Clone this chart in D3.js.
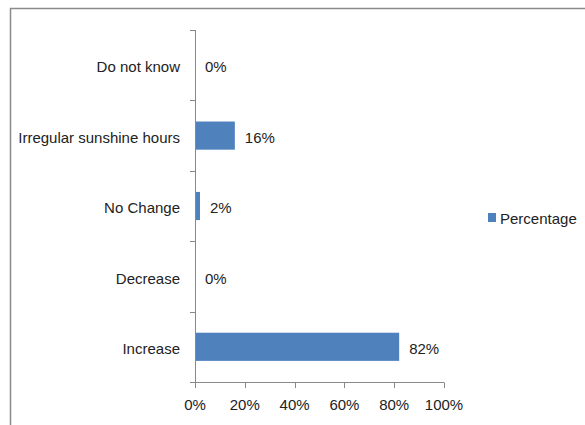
<!DOCTYPE html>
<html><head><meta charset="utf-8">
<script src="https://cdn.jsdelivr.net/npm/d3@7"></script>
<style>body{margin:0;background:#fff}</style>
</head><body>
<svg id="c" width="585" height="425"></svg>
<script>
const categories = ["Do not know","Irregular sunshine hours","No Change","Decrease","Increase"];
const values = [0,16,2,0,82];
const xTicks = [0,20,40,60,80,100];
const seriesName = "Percentage";

const svg = d3.select("#c");
const font = "'Liberation Sans',Arial,sans-serif";
const fs = 15;
svg.append("rect").attr("x",10.5).attr("y",8.5).attr("width",600).attr("height",450)
  .attr("fill","#fff").attr("stroke","#8a8a8a").attr("stroke-width",1.5);

const m = {left:195, top:30, right:444, bottom:382};
const x = d3.scaleLinear().domain([0,100]).range([m.left,m.right]);
const y = d3.scaleBand().domain(categories).range([m.top,m.bottom]).paddingInner(0.6).paddingOuter(0.3);
const yb = d3.scaleBand().domain(categories).range([m.top,m.bottom]);

// y axis
const ya = svg.append("g").attr("transform",`translate(${m.left},0)`);
ya.append("line").attr("x1",0.5).attr("x2",0.5).attr("y1",m.top).attr("y2",m.bottom).attr("stroke","#888");
const yEdges = categories.map(c=>yb(c)).concat([m.bottom]);
ya.selectAll(".yt").data(yEdges).join("line").attr("x1",-5).attr("x2",0.5)
  .attr("y1",d=>Math.round(d)+0.5).attr("y2",d=>Math.round(d)+0.5).attr("stroke","#888");
ya.selectAll("text").data(categories).join("text")
  .attr("x",-15).attr("y",d=>yb(d)+yb.bandwidth()/2+2).attr("dy","0.35em")
  .attr("text-anchor","end").attr("font-family",font).attr("font-size",fs).attr("fill","#222")
  .text(d=>d);

// x axis
const xa = svg.append("g").attr("transform",`translate(0,${m.bottom})`);
xa.append("line").attr("x1",m.left).attr("x2",m.right).attr("y1",0.5).attr("y2",0.5).attr("stroke","#888");
xa.selectAll(".xt").data(xTicks).join("line").attr("x1",d=>Math.round(x(d))+0.5).attr("x2",d=>Math.round(x(d))+0.5)
  .attr("y1",0.5).attr("y2",6).attr("stroke","#888");
xa.selectAll("text").data(xTicks).join("text").attr("x",d=>x(d)).attr("y",28)
  .attr("text-anchor","middle").attr("font-family",font).attr("font-size",fs).attr("fill","#222")
  .text(d=>d+"%");

// bars
svg.selectAll(".bar").data(categories).join("rect")
  .attr("x",m.left+1).attr("y",d=>y(d)).attr("height",y.bandwidth())
  .attr("width",(d,i)=>Math.max(0,x(values[i])-m.left-1)).attr("fill","#4f81bd");
svg.selectAll(".lab").data(categories).join("text")
  .attr("x",(d,i)=>x(values[i])+10).attr("y",d=>yb(d)+yb.bandwidth()/2+2).attr("dy","0.35em")
  .attr("font-family",font).attr("font-size",fs).attr("fill","#222")
  .text((d,i)=>values[i]+"%");

// legend
svg.append("rect").attr("x",488).attr("y",213).attr("width",8).attr("height",9).attr("fill","#4f81bd");
svg.append("text").attr("x",500).attr("y",219).attr("dy","0.35em").attr("font-family",font)
  .attr("font-size",fs).attr("fill","#222").text(seriesName);
</script>
</body></html>
